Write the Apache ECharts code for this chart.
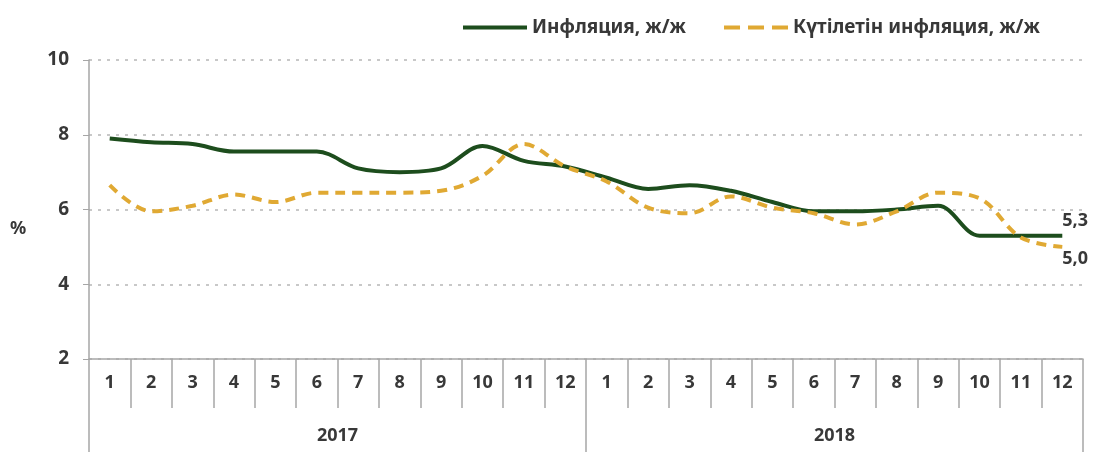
<!DOCTYPE html>
<html>
<head>
<meta charset="utf-8">
<script src="https://cdn.jsdelivr.net/npm/echarts@6/dist/echarts.min.js"></script>
<style>
html,body{margin:0;padding:0;background:#fff;}
#chart{width:1094px;height:452px;}
</style>
</head>
<body>
<div id="chart"></div>
<script>
const months = ['1','2','3','4','5','6','7','8','9','10','11','12','1','2','3','4','5','6','7','8','9','10','11','12'];
const years = ['2017','2018'];
const inflation = [7.9,7.8,7.75,7.55,7.55,7.55,7.1,7.0,7.1,7.7,7.3,7.15, 6.85,6.55,6.65,6.5,6.2,5.95,5.95,6.0,6.1,5.3,5.3,5.3];
const expected = [6.65,5.95,6.1,6.4,6.2,6.45,6.45,6.45,6.5,6.9,7.75,7.15, 6.75,6.05,5.9,6.35,6.05,5.9,5.6,5.95,6.45,6.3,5.25,5.0];
const yTicks = [2,4,6,8,10];
const seriesNames = ['Инфляция, ж/ж','Күтілетін инфляция, ж/ж'];

const FONT = '"Noto Sans", sans-serif';
const TXT = '#383838';
const chart = echarts.init(document.getElementById('chart'));
const fmt = p => Number(p.value).toFixed(1).replace('.', ',');
chart.setOption({
  animation:false,
  textStyle:{fontFamily:FONT},
  legend:{
    top:13, left:458, itemWidth:64, itemHeight:14, itemGap:38,
    textStyle:{fontFamily:FONT, fontSize:19, fontWeight:'bold', color:TXT},
    data:[
      {name:seriesNames[0], icon:'path://M0,5L64,5L64,9L0,9Z'},
      {name:seriesNames[1], icon:'path://M0,5L16,5L16,9L0,9Z M24,5L40,5L40,9L24,9Z M48,5L64,5L64,9L48,9Z'}
    ]
  },
  grid:{left:89, right:11, top:60, bottom:93, containLabel:false},
  xAxis:[{
    type:'category', data:months, boundaryGap:true, position:'bottom',
    axisLine:{show:true, lineStyle:{color:'#a6a6a6', width:1.5}},
    axisTick:{show:true, interval:0, length:49, lineStyle:{color:'#a6a6a6', width:1.5}},
    axisLabel:{interval:0, margin:15, fontFamily:FONT, fontSize:18, fontWeight:'bold', color:TXT}
  },{
    type:'category', data:years, boundaryGap:true, position:'bottom', offset:0,
    axisLine:{show:false},
    axisTick:{show:true, interval:0, length:93, lineStyle:{color:'#a6a6a6', width:1.5}},
    axisLabel:{interval:0, margin:68, fontFamily:FONT, fontSize:18, fontWeight:'bold', color:TXT}
  }],
  yAxis:{
    type:'value', min:yTicks[0], max:yTicks[yTicks.length-1], interval:2,
    axisLine:{show:true, lineStyle:{color:'#a6a6a6', width:1.5}},
    axisTick:{show:true, length:6, lineStyle:{color:'#a6a6a6'}},
    axisLabel:{margin:20, fontFamily:FONT, fontSize:19, fontWeight:'bold', color:TXT},
    splitLine:{show:true, lineStyle:{color:'#c8c8c8', type:[3,6], width:2}}
  },
  graphic:[{type:'text', left:10, top:220, style:{text:'%', font:'bold 18px "Noto Sans", sans-serif', fill:TXT}}],
  series:[{
    name:seriesNames[0], type:'line', data:inflation, xAxisIndex:0, smooth:0.35,
    symbol:'none', z:3,
    lineStyle:{color:'#1d4d1d', width:4},
    itemStyle:{color:'#1d4d1d'},
    endLabel:{show:true, formatter:fmt, distance:0, offset:[0,-15], fontFamily:FONT, fontSize:18, fontWeight:'bold', color:TXT}
  },{
    name:seriesNames[1], type:'line', data:expected, xAxisIndex:0, smooth:0.35,
    symbol:'none', z:4,
    lineStyle:{color:'#e0a933', width:4, type:[10,7]},
    itemStyle:{color:'#e0a933'},
    endLabel:{show:true, formatter:fmt, distance:0, offset:[0,12], fontFamily:FONT, fontSize:18, fontWeight:'bold', color:TXT}
  }]
});
</script>
</body>
</html>
